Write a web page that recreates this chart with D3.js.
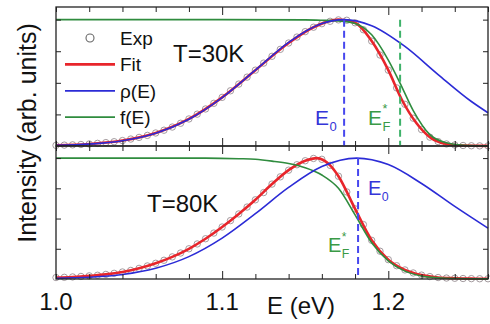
<!DOCTYPE html>
<html>
<head>
<meta charset="utf-8">
<script src="https://cdn.jsdelivr.net/npm/d3@7"></script>
<style>
  body { margin: 0; background: #fff; }
  text { font-family: "Liberation Sans", Arial, sans-serif; }
</style>
</head>
<body>
<div id="chart"></div>
<script>
// energies (eV) used by the curves
var eExp = [1.000,1.005,1.010,1.015,1.020,1.025,1.030,1.035,1.040,1.045,1.050,1.055,1.060,1.065,1.070,1.075,1.080,1.085,1.090,1.095,
            1.100,1.105,1.110,1.115,1.120,1.125,1.130,1.135,1.140,1.145,1.150,1.155,1.160,1.165,1.170,1.175,1.180,1.185,1.190,1.195,
            1.200,1.205,1.210,1.215,1.220,1.225,1.230,1.235,1.240,1.245,1.250,1.255,1.260];

// T = 30K
var exp30 = [.005,.007,.009,.012,.016,.021,.027,.034,.043,.055,.068,.084,.103,.125,.150,.180,.214,.252,.293,.338,
             .385,.437,.490,.545,.600,.656,.710,.765,.815,.862,.905,.940,.968,.987,.998,.995,.975,.920,.830,.720,
             .600,.460,.330,.220,.130,.070,.035,.016,.008,.004,.002,.001,.001];
var eFit30 = [1.00,1.02,1.04,1.06,1.08,1.10,1.12,1.14,1.155,1.17,1.18,1.19,1.20,1.208,1.217,1.225,1.235,1.245,1.26];
var fit30  = [.005,.016,.043,.103,.214,.385,.600,.815,.940,1.0,.975,.830,.600,.370,.180,.070,.016,.004,.001];
var eRho30 = [1.00,1.02,1.04,1.06,1.08,1.10,1.12,1.14,1.16,1.1734,1.19,1.21,1.23,1.25,1.26];
var rho30  = [.005,.015,.042,.101,.212,.383,.600,.820,.969,1.0,.952,.788,.565,.352,.263];
var eF30   = [1.00,1.10,1.15,1.16,1.17,1.18,1.19,1.20,1.207,1.215,1.225,1.235,1.245,1.26];
var f30    = [1.0,1.0,.998,.995,.99,.97,.88,.68,.50,.28,.09,.025,.006,.001];
var E0_30 = 1.1734, EF_30 = 1.2071;

// T = 80K
var exp80 = [.012,.014,.017,.021,.026,.031,.038,.047,.058,.071,.088,.108,.130,.155,.183,.215,.250,.290,.333,.380,
             .430,.483,.538,.595,.655,.715,.785,.845,.900,.945,.978,.997,.990,.940,.850,.720,.580,.450,.320,.230,
             .160,.110,.075,.050,.032,.020,.012,.008,.006,.004,.003,.002,.002];
var eFit80 = [1.00,1.01,1.02,1.03,1.04,1.05,1.06,1.07,1.08,1.09,1.10,1.11,1.12,1.13,1.14,1.15,1.157,1.165,1.17,1.18,1.19,1.20,1.21,1.22,1.23,1.24,1.25,1.26];
var fit80  = [.012,.017,.026,.038,.058,.088,.130,.183,.250,.333,.430,.538,.655,.785,.900,.978,1.0,.940,.850,.580,.320,.160,.075,.032,.012,.006,.003,.002];
var eRho80 = [1.00,1.02,1.04,1.06,1.08,1.10,1.12,1.14,1.16,1.181,1.20,1.22,1.24,1.26];
var rho80  = [.005,.014,.037,.089,.185,.338,.540,.757,.930,1.0,.946,.790,.600,.420];
var eF80   = [1.00,1.09,1.11,1.12,1.13,1.14,1.15,1.16,1.17,1.18,1.19,1.20,1.21,1.22,1.23,1.24,1.26];
var f80    = [1.0,1.0,.995,.99,.975,.955,.92,.86,.75,.53,.30,.15,.065,.025,.01,.004,.001];
var E0_80 = 1.1818;

var xTicks = [1.00,1.02,1.04,1.06,1.08,1.10,1.12,1.14,1.16,1.18,1.20,1.22,1.24,1.26];
var xLabels = [1.0,1.1,1.2];
var yTicks = [0.25,0.5,0.75,1.0];

var W = 490, H = 324;
var left = 56, right = 488;
var svg = d3.select("#chart").append("svg").attr("width", W).attr("height", H);

var x = d3.scaleLinear().domain([1.0, 1.26]).range([left, right]);
var yTop = d3.scaleLinear().domain([0, 1.1]).range([146, 7]);
var yBot = d3.scaleLinear().domain([0, 1.1]).range([279, 146]);

var cRed = "#e8252b", cBlue = "#2b2bd6", cGreen = "#2f8c3e";

function zip(es, vs) { return es.map(function(e, i) { return [e, vs[i]]; }); }

function panel(y, d) {
  var g = svg.append("g");
  var line = d3.line().x(function(p) { return x(p[0]); }).y(function(p) { return y(p[1]); })
    .curve(d3.curveMonotoneX);

  g.append("g").selectAll("circle").data(zip(eExp, d.exp)).enter().append("circle")
    .attr("cx", function(p) { return x(p[0]); })
    .attr("cy", function(p) { return y(p[1]); })
    .attr("r", 3.2)
    .attr("fill", "none").attr("stroke", "#9a9094").attr("stroke-width", 0.9);

  g.append("path").datum(zip(d.eFit, d.fit)).attr("d", line)
    .attr("fill", "none").attr("stroke", cRed).attr("stroke-width", 2.6);
  g.append("path").datum(zip(d.eF, d.f)).attr("d", line)
    .attr("fill", "none").attr("stroke", cGreen).attr("stroke-width", 1.6);
  g.append("path").datum(zip(d.eRho, d.rho)).attr("d", line)
    .attr("fill", "none").attr("stroke", cBlue).attr("stroke-width", 1.6);

  // inward ticks
  var r = y.range();
  g.append("g").attr("transform", "translate(0," + r[0] + ")")
    .call(d3.axisBottom(x).tickValues(xTicks).tickSize(-5).tickFormat(""));
  g.append("g").attr("transform", "translate(0," + r[1] + ")")
    .call(d3.axisTop(x).tickValues(xTicks).tickSize(-5).tickFormat(""));
  g.append("g").attr("transform", "translate(" + left + ",0)")
    .call(d3.axisLeft(y).tickValues(yTicks).tickSize(-5).tickFormat(""));
  g.append("g").attr("transform", "translate(" + right + ",0)")
    .call(d3.axisRight(y).tickValues(yTicks).tickSize(-5).tickFormat(""));
  g.selectAll(".domain").remove();
  g.selectAll(".tick line").attr("stroke", "#222");
  g.selectAll(".tick").filter(function(t) { return xLabels.indexOf(t) >= 0 && t !== 1.0; })
    .select("line").attr("y2", function() { return +d3.select(this).attr("y2") * 1.6; });

  g.append("rect").attr("x", left).attr("y", r[1]).attr("width", right - left).attr("height", r[0] - r[1])
    .attr("fill", "none").attr("stroke", "#222").attr("stroke-width", 1.3);
  return g;
}

var g30 = panel(yTop, {exp: exp30, eFit: eFit30, fit: fit30, eRho: eRho30, rho: rho30, eF: eF30, f: f30});
var g80 = panel(yBot, {exp: exp80, eFit: eFit80, fit: fit80, eRho: eRho80, rho: rho80, eF: eF80, f: f80});

// dashed markers
g30.append("line").attr("x1", x(E0_30)).attr("x2", x(E0_30)).attr("y1", yTop(1)).attr("y2", yTop(0))
  .attr("stroke", "#4747ee").attr("stroke-width", 2).attr("stroke-dasharray", "7,4");
g30.append("line").attr("x1", x(EF_30)).attr("x2", x(EF_30)).attr("y1", yTop(1)).attr("y2", yTop(0))
  .attr("stroke", "#3fb26a").attr("stroke-width", 2).attr("stroke-dasharray", "7,4");
g80.append("line").attr("x1", x(E0_80)).attr("x2", x(E0_80)).attr("y1", yBot(1)).attr("y2", yBot(0))
  .attr("stroke", "#4747ee").attr("stroke-width", 2).attr("stroke-dasharray", "7,4");

function eLabel(px, py, sub, sup, color, size) {
  var t = svg.append("text").attr("x", px).attr("y", py).attr("fill", color).style("font-size", size + "px");
  t.append("tspan").text("E");
  if (sup) {
    svg.append("text").attr("x", px + size * 0.69).attr("y", py - size * 0.55).attr("fill", color)
      .style("font-size", (size * 0.6) + "px").text(sup);
  }
  svg.append("text").attr("x", px + size * 0.69).attr("y", py + size * 0.3).attr("fill", color)
    .style("font-size", (size * 0.62) + "px").text(sub);
}
eLabel(315, 125, "0", null, "#3535d8", 21);
eLabel(368, 125, "F", "*", "#3a9a46", 21);
eLabel(368, 195, "0", null, "#3535d8", 20);
eLabel(328, 252, "F", "*", "#3a9a46", 20);

svg.append("text").attr("x", 173).attr("y", 62).style("font-size", "24px").attr("fill", "#111").text("T=30K");
svg.append("text").attr("x", 147).attr("y", 212).style("font-size", "24px").attr("fill", "#111").text("T=80K");

// legend
var legend = [
  {name: "Exp", type: "circle"},
  {name: "Fit", type: "line", color: cRed, w: 2.6},
  {name: "\u03c1(E)", type: "line", color: cBlue, w: 1.8},
  {name: "f(E)", type: "line", color: cGreen, w: 1.8}
];
var lg = svg.append("g");
legend.forEach(function(d, i) {
  var ly = 38 + i * 26.4;
  if (d.type === "circle") {
    lg.append("circle").attr("cx", 90).attr("cy", ly).attr("r", 4)
      .attr("fill", "none").attr("stroke", "#666").attr("stroke-width", 1.1);
  } else {
    lg.append("line").attr("x1", 65).attr("x2", 115).attr("y1", ly).attr("y2", ly)
      .attr("stroke", d.color).attr("stroke-width", d.w);
  }
  lg.append("text").attr("x", 120).attr("y", ly + 7).style("font-size", "19px").attr("fill", "#111").text(d.name);
});

// axis labels
xLabels.forEach(function(v) {
  svg.append("text").attr("x", x(v)).attr("y", 310).attr("text-anchor", "middle")
    .style("font-size", "24px").attr("fill", "#111").text(v.toFixed(1));
});
svg.append("text").attr("x", 301).attr("y", 314).attr("text-anchor", "middle")
  .style("font-size", "24px").attr("fill", "#111").text("E (eV)");
svg.append("text").attr("transform", "translate(36,133) rotate(-90)").attr("text-anchor", "middle")
  .style("font-size", "25px").attr("fill", "#111").text("Intensity (arb. units)");
</script>
</body>
</html>
